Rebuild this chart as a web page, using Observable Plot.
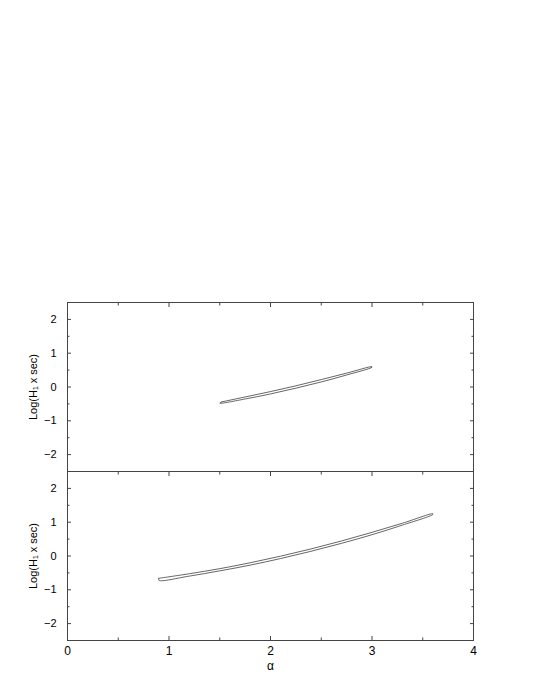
<!DOCTYPE html>
<html><head><meta charset="utf-8">
<script src="https://cdn.jsdelivr.net/npm/d3@7"></script>
<script src="https://cdn.jsdelivr.net/npm/@observablehq/plot@0.6"></script>
<style>body{margin:0;background:#fff;}</style>
</head><body><div id="chart"></div>
<script>
const panels = ["upper", "lower"];
// top panel loop
const topUpperX = [1.52, 1.75, 2.0, 2.25, 2.5, 2.75, 3.0];
const topUpperY = [-0.44, -0.295, -0.135, 0.035, 0.22, 0.41, 0.60];
const topLowerX = [3.0, 2.75, 2.5, 2.25, 2.0, 1.75, 1.5];
const topLowerY = [0.585, 0.355, 0.15, -0.035, -0.205, -0.355, -0.48];
// bottom panel loop
const botUpperX = [0.9, 1.2, 1.5, 1.8, 2.1, 2.4, 2.7, 3.0, 3.3, 3.6];
const botUpperY = [-0.66, -0.525, -0.375, -0.2, -0.005, 0.21, 0.445, 0.70, 0.97, 1.25];
const botLowerX = [3.6, 3.3, 3.0, 2.7, 2.4, 2.1, 1.8, 1.5, 1.2, 0.9];
const botLowerY = [1.23, 0.915, 0.63, 0.375, 0.14, -0.075, -0.27, -0.44, -0.595, -0.72];
const xTicks = [0, 1, 2, 3, 4];
const xMinor = [0.5, 1.5, 2.5, 3.5];
const yTicks = [-2, -1, 0, 1, 2];
const yMinor = [-1.5, -0.5, 0.5, 1.5];
const yLabel = "Log(H\u2081 x sec)";
const xLabel = "\u03b1";

function loop(panel, ux, uy, lx, ly) {
  const pts = [];
  ux.forEach((x, i) => pts.push({panel, x, y: uy[i]}));
  lx.forEach((x, i) => pts.push({panel, x, y: ly[i]}));
  pts.push({panel, x: ux[0], y: uy[0]});
  return pts;
}
const rows = [
  ...loop("upper", topUpperX, topUpperY, topLowerX, topLowerY),
  ...loop("lower", botUpperX, botUpperY, botLowerX, botLowerY)
];

const ink = "#444";
const chart = Plot.plot({
  width: 540, height: 699,
  marginTop: 302, marginBottom: 59, marginLeft: 67, marginRight: 67,
  x: {domain: [0, 4]},
  y: {domain: [-2.5, 2.5]},
  fy: {domain: panels, padding: 0, axis: null},
  style: {fontFamily: "'Liberation Sans', Arial, sans-serif", fontSize: "11px", color: "#000", background: "#fff"},
  marks: [
    Plot.frame({stroke: ink}),
    Plot.axisY(yTicks, {anchor: "left", tickSize: 0, tickPadding: 11, fontSize: 11, label: null}),
    Plot.axisY(yTicks, {anchor: "left", tickSize: -4, text: null, label: null, stroke: ink}),
    Plot.axisY(yMinor, {anchor: "left", tickSize: -2.5, text: null, label: null, stroke: ink}),
    Plot.axisY(yTicks, {anchor: "right", tickSize: -4, text: null, label: null, stroke: ink}),
    Plot.axisY(yMinor, {anchor: "right", tickSize: -2.5, text: null, label: null, stroke: ink}),
    Plot.axisX(xTicks, {anchor: "top", tickSize: -4, text: null, label: null, stroke: ink, facetAnchor: null}),
    Plot.axisX(xMinor, {anchor: "top", tickSize: -2.5, text: null, label: null, stroke: ink, facetAnchor: null}),
    Plot.axisX(xTicks, {anchor: "bottom", tickSize: -4, text: null, label: null, stroke: ink}),
    Plot.axisX(xMinor, {anchor: "bottom", tickSize: -2.5, text: null, label: null, stroke: ink}),
    Plot.axisX(xTicks, {anchor: "bottom", tickSize: 0, tickPadding: 6, fontSize: 12, label: null}),
    Plot.text([xLabel], {x: () => 2, fy: () => "lower", frameAnchor: "bottom", dy: 29, fontSize: 12, text: d => d}),
    Plot.text([yLabel], {x: () => 0, y: () => 0, dx: -34, rotate: -90, fontSize: 11, text: d => d}),
    Plot.line(rows, {x: "x", y: "y", fy: "panel", z: "panel", stroke: "#333", strokeWidth: 0.75, curve: "catmull-rom"})
  ]
});
document.getElementById("chart").appendChild(chart);
</script>
</body></html>
